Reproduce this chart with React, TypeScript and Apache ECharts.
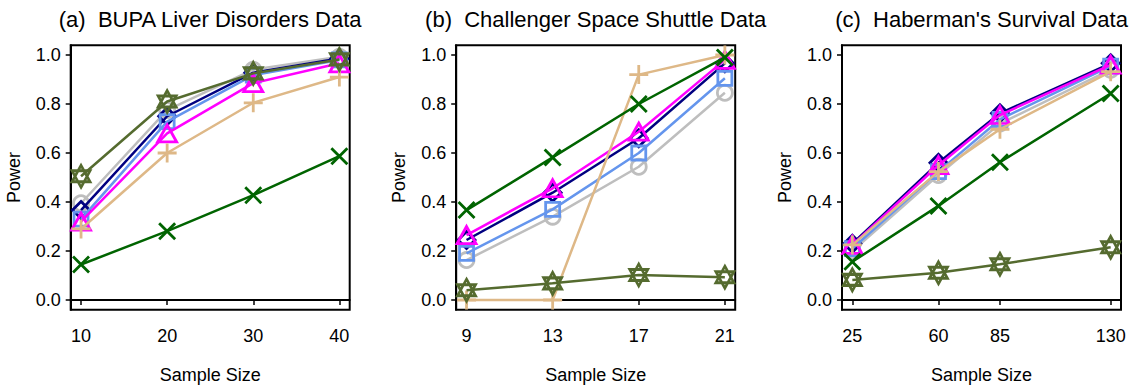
import React, { useEffect, useRef } from "react";
import * as echarts from "echarts";

// ---- Data ----
const titles = [
  "(a)  BUPA Liver Disorders Data",
  "(b)  Challenger Space Shuttle Data",
  "(c)  Haberman's Survival Data",
];
const sampleSizesA = [10, 20, 30, 40];
const sampleSizesB = [9, 13, 17, 21];
const sampleSizesC = [25, 60, 85, 130];
const yTicks = [0, 0.2, 0.4, 0.6, 0.8, 1.0];

// series per panel: gray circle, navy diamond, cornflower square, magenta triangle,
// burlywood plus, darkgreen cross, darkolivegreen star
const grayA = [0.395, 0.775, 0.94, 0.993];
const navyA = [0.367, 0.75, 0.928, 0.986];
const blueA = [0.33, 0.728, 0.918, 0.98];
const magentaA = [0.32, 0.68, 0.885, 0.966];
const burlyA = [0.29, 0.6, 0.805, 0.91];
const greenA = [0.145, 0.281, 0.428, 0.587];
const oliveA = [0.505, 0.81, 0.925, 0.982];

const grayB = [0.163, 0.34, 0.544, 0.846];
const navyB = [0.245, 0.438, 0.66, 0.966];
const blueB = [0.19, 0.37, 0.6, 0.905];
const magentaB = [0.265, 0.456, 0.687, 0.98];
const burlyB = [0.0, 0.0, 0.92, 1.0];
const greenB = [0.367, 0.582, 0.8, 0.99];
const oliveB = [0.04, 0.068, 0.102, 0.093];

const grayC = [0.2, 0.51, 0.72, 0.94];
const navyC = [0.23, 0.56, 0.762, 0.966];
const blueC = [0.21, 0.524, 0.737, 0.955];
const magentaC = [0.225, 0.55, 0.755, 0.96];
const burlyC = [0.225, 0.524, 0.697, 0.932];
const greenC = [0.156, 0.384, 0.562, 0.843];
const oliveC = [0.082, 0.111, 0.146, 0.215];

const xs = [sampleSizesA, sampleSizesB, sampleSizesC];
const panelSeries = [
  [grayA, navyA, blueA, magentaA, burlyA, greenA, oliveA],
  [grayB, navyB, blueB, magentaB, burlyB, greenB, oliveB],
  [grayC, navyC, blueC, magentaC, burlyC, greenC, oliveC],
];

const STAR = "path://M0,-10 L8.66,5 L-8.66,5 Z M0,10 L8.66,-5 L-8.66,-5 Z";
const PLUS = "path://M0,-10 L0,10 M-10,0 L10,0";
const CROSS = "path://M-10,-10 L10,10 M-10,10 L10,-10";

const styles = [
  { color: "#BEBEBE", symbol: "circle", size: 15 },
  { color: "#000080", symbol: "diamond", size: 17 },
  { color: "#6495ED", symbol: "rect", size: 14 },
  { color: "#FF00FF", symbol: "triangle", size: [19, 17] },
  { color: "#DEB887", symbol: PLUS, size: 19 },
  { color: "#006400", symbol: CROSS, size: 16 },
  { color: "#556B2F", symbol: STAR, size: [18, 22] },
];

const FONT = "'Liberation Sans', Arial, Helvetica, sans-serif";

export default function App() {
  const ref = useRef<HTMLDivElement>(null);
  useEffect(() => {
    if (!ref.current) return;
    const chart = echarts.init(ref.current, null, { renderer: "svg" });
    const boxLeft = [70.7, 456.2, 842];
    const boxTop = 45.2;
    const boxW = 279;
    const boxH = 264.6;

    const grids: any[] = [];
    const xAxes: any[] = [];
    const yAxes: any[] = [];
    const series: any[] = [];
    const graphics: any[] = [];

    for (let p = 0; p < 3; p++) {
      const xv = xs[p];
      const lo = xv[0];
      const hi = xv[xv.length - 1];
      const pad = (hi - lo) * 0.04;
      grids.push({
        left: boxLeft[p],
        top: boxTop,
        width: boxW,
        height: boxH,
        show: true,
        borderColor: "#000",
        borderWidth: 2,
        backgroundColor: "transparent",
      });
      xAxes.push({
        type: "value",
        gridIndex: p,
        min: lo - pad,
        max: hi + pad,
        name: "Sample Size",
        nameLocation: "middle",
        nameGap: 56,
        nameTextStyle: { fontFamily: FONT, fontSize: 18, color: "#000" },
        axisLine: { show: true, lineStyle: { color: "#000", width: 2 } },
        axisTick: {
          show: true,
          length: 5,
          customValues: xv,
          lineStyle: { color: "#000", width: 1.5 },
        },
        axisLabel: {
          customValues: xv,
          margin: 17,
          fontFamily: FONT,
          fontSize: 18,
          color: "#000",
          formatter: (v: number) => String(v),
        },
        splitLine: { show: false },
      });
      yAxes.push({
        type: "value",
        gridIndex: p,
        min: -0.04,
        max: 1.04,
        name: "Power",
        nameLocation: "middle",
        nameGap: 48,
        nameRotate: 90,
        nameTextStyle: { fontFamily: FONT, fontSize: 18, color: "#000" },
        axisLine: { show: true, lineStyle: { color: "#000", width: 2 } },
        axisTick: {
          show: true,
          length: 5,
          customValues: yTicks,
          lineStyle: { color: "#000", width: 1.5 },
        },
        axisLabel: {
          customValues: yTicks,
          margin: 10,
          fontFamily: FONT,
          fontSize: 18,
          color: "#000",
          formatter: (v: number) => v.toFixed(1),
        },
        splitLine: { show: false },
      });
      panelSeries[p].forEach((vals, i) => {
        const st = styles[i];
        series.push({
          type: "line",
          xAxisIndex: p,
          yAxisIndex: p,
          data: vals.map((v, k) => [xv[k], v]),
          symbol: st.symbol,
          symbolSize: st.size,
          symbolKeepAspect: false,
          showAllSymbol: true,
          clip: false,
          silent: true,
          lineStyle: { color: st.color, width: 2.5 },
          itemStyle: {
            color: "rgba(0,0,0,0)",
            borderColor: st.color,
            borderWidth: 2.8,
            opacity: 1,
          },
          emphasis: { disabled: true },
          z: 2 + i,
        });
      });
      graphics.push({
        type: "text",
        x: boxLeft[p] + boxW / 2,
        y: 19,
        style: {
          text: titles[p],
          fontFamily: FONT,
          fontSize: 22,
          fill: "#000",
          align: "center",
          verticalAlign: "middle",
        },
      });
    }

    chart.setOption({
      animation: false,
      backgroundColor: "#fff",
      grid: grids,
      xAxis: xAxes,
      yAxis: yAxes,
      series,
      graphic: graphics,
    });
    return () => chart.dispose();
  }, []);
  return (
    <div
      ref={ref}
      style={{ position: "absolute", left: 0, top: 0, width: 1148, height: 389 }}
    />
  );
}
